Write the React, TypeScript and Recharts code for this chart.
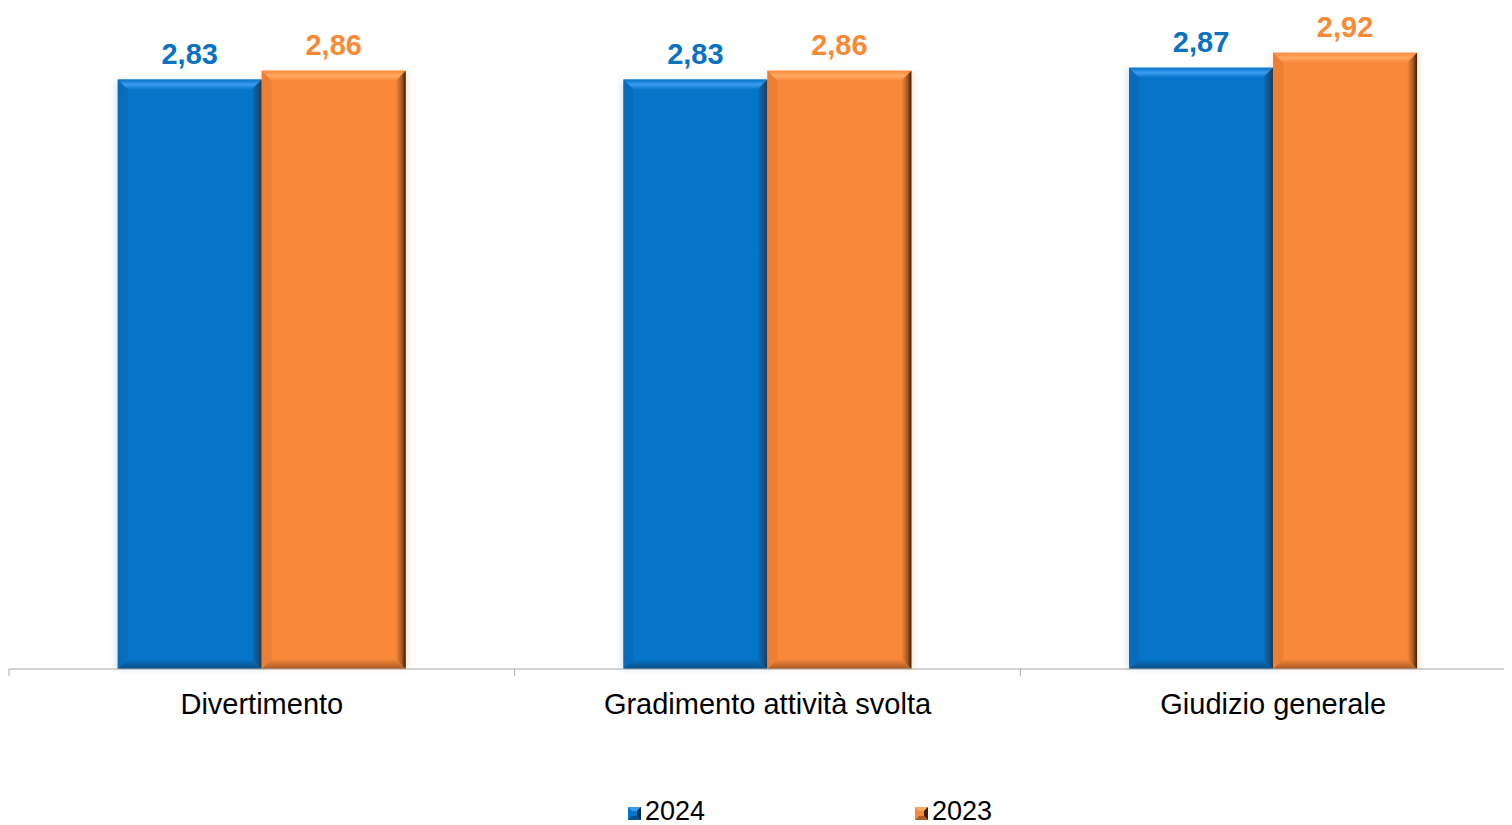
import { BarChart, Bar, XAxis, YAxis, LabelList } from 'recharts'

const categories = ['Divertimento', 'Gradimento attività svolta', 'Giudizio generale']
const values2024 = [2.83, 2.83, 2.87]
const values2023 = [2.86, 2.86, 2.92]
const seriesNames = ['2024', '2023']

const data = categories.map((name, i) => ({ name, s2024: values2024[i], s2023: values2023[i] }))

const CHART_W = 1530
const CHART_H = 840
const MARGIN = { top: 21, right: 12, left: 1, bottom: 119 }
const HALF_BAND = (CHART_W - MARGIN.left - MARGIN.right) / categories.length / 2
const FONT = '"Liberation Sans", Arial, sans-serif'

const tones = {
  blue: { face: '#0675c9', label: '#0b72c2', light: '#3a9cef', dark: '#032f52', bottom: '#0a4f86', left: '#0a66b0' },
  orange: { face: '#f9883a', label: '#f98a35', light: '#fdaa62', dark: '#3a1e08', bottom: '#a95a25', left: '#e47a31' },
}
type Tone = keyof typeof tones

function Bevel({ x, y, width, height, tone }: any) {
  const t = tones[tone as Tone]
  const b = Math.min(10, width / 4, height / 4)
  const r = x + width
  const btm = y + height
  return (
    <g>
      <rect x={x - 2} y={y + 2} width={width + 5} height={height - 2} fill={t.face} opacity={0.18} filter="url(#soft)" />
      <rect x={x} y={y} width={width} height={height} fill={t.face} />
      <polygon points={`${x},${y} ${r},${y} ${r - b},${y + b} ${x + b},${y + b}`} fill={`url(#top-${tone})`} />
      <polygon points={`${x},${y} ${x + b},${y + b} ${x + b},${btm - b} ${x},${btm}`} fill={t.left} opacity={0.6} />
      <polygon points={`${x},${btm} ${r},${btm} ${r - b},${btm - b} ${x + b},${btm - b}`} fill={`url(#bot-${tone})`} />
      <polygon points={`${r},${y} ${r},${btm} ${r - b},${btm - b} ${r - b},${y + b}`} fill={`url(#right-${tone})`} />
    </g>
  )
}

function Gradients() {
  return (
    <defs>
      <filter id="soft" x="-20%" y="-20%" width="140%" height="140%">
        <feGaussianBlur stdDeviation="3" />
      </filter>
      {(Object.keys(tones) as Tone[]).map((k) => (
        <g key={k}>
          <linearGradient id={`top-${k}`} x1="0" y1="0" x2="0" y2="1">
            <stop offset="0" stopColor={tones[k].face} />
            <stop offset="0.5" stopColor={tones[k].light} />
            <stop offset="1" stopColor={tones[k].face} />
          </linearGradient>
          <linearGradient id={`bot-${k}`} x1="0" y1="0" x2="0" y2="1">
            <stop offset="0" stopColor={tones[k].face} />
            <stop offset="1" stopColor={tones[k].bottom} />
          </linearGradient>
          <linearGradient id={`right-${k}`} x1="0" y1="0" x2="1" y2="0">
            <stop offset="0" stopColor={tones[k].face} />
            <stop offset="0.6" stopColor={tones[k].bottom} />
            <stop offset="1" stopColor={tones[k].dark} />
          </linearGradient>
        </g>
      ))}
    </defs>
  )
}

function CategoryTick({ x, y, payload }: any) {
  return (
    <g>
      <line x1={x - HALF_BAND} x2={x - HALF_BAND} y1={y} y2={y + 7} stroke="#a6a6a6" />
      <text x={x} y={y + 45} textAnchor="middle" fontSize={29} fill="#000" fontFamily={FONT}>
        {payload.value}
      </text>
    </g>
  )
}

const valueLabel = (tone: Tone) => (p: any) => (
  <text
    x={p.x + p.width / 2}
    y={p.y - 16}
    textAnchor="middle"
    fontSize={29}
    fontWeight="bold"
    fill={tones[tone].label}
    fontFamily={FONT}
  >
    {Number(p.value).toFixed(2).replace('.', ',')}
  </text>
)

function LegendIcon({ tone }: { tone: Tone }) {
  const t = tones[tone]
  return (
    <svg width={13} height={13} style={{ display: 'block', marginTop: 4 }}>
      <rect x={0} y={0} width={13} height={13} fill={t.face} />
      <polygon points="0,0 13,0 9,4 4,4" fill={t.light} />
      <polygon points="13,0 13,13 9,9 9,4" fill={t.dark} />
      <polygon points="0,13 13,13 9,9 4,9" fill={t.bottom} />
    </svg>
  )
}

const seriesTones: Tone[] = ['blue', 'orange']

export default function App() {
  return (
    <div style={{ position: 'relative', width: 1504, height: 817, overflow: 'hidden' }}>
      <BarChart width={CHART_W} height={CHART_H} data={data} margin={MARGIN} barCategoryGap="21.5%" barGap={0}>
        <Gradients />
        <XAxis
          dataKey="name"
          axisLine={{ stroke: '#a6a6a6' }}
          tickLine={false}
          tickSize={0}
          tickMargin={0}
          height={60}
          interval={0}
          tick={<CategoryTick />}
        />
        <YAxis hide domain={[0.85, 3]} />
        <Bar dataKey="s2024" name={seriesNames[0]} isAnimationActive={false} shape={(p: any) => <Bevel {...p} tone="blue" />}>
          <LabelList dataKey="s2024" content={valueLabel('blue')} />
        </Bar>
        <Bar dataKey="s2023" name={seriesNames[1]} isAnimationActive={false} shape={(p: any) => <Bevel {...p} tone="orange" />}>
          <LabelList dataKey="s2023" content={valueLabel('orange')} />
        </Bar>
      </BarChart>
      {seriesNames.map((s, i) => (
        <div
          key={s}
          style={{
            position: 'absolute',
            top: 790,
            left: 620 + i * 287,
            display: 'flex',
            alignItems: 'center',
            fontFamily: FONT,
            fontSize: 27,
            lineHeight: '26px',
            color: '#000',
          }}
        >
          <LegendIcon tone={seriesTones[i]} />
          <span style={{ marginLeft: 4 }}>{s}</span>
        </div>
      ))}
    </div>
  )
}
